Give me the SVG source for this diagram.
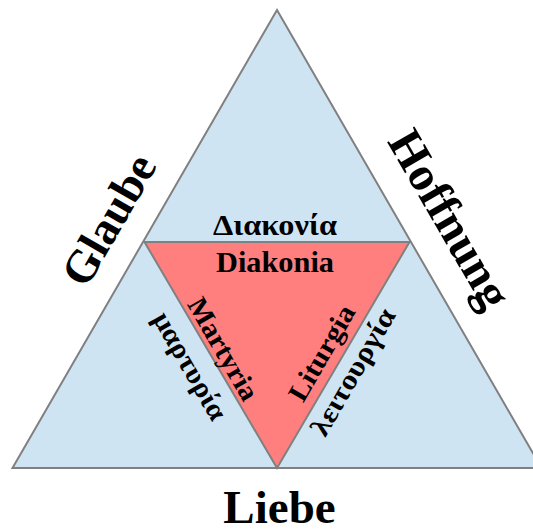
<svg xmlns="http://www.w3.org/2000/svg" width="533" height="532" viewBox="0 0 533 532">
<style>
.tri{stroke:#808080;stroke-width:2;stroke-linejoin:miter}
.t{font-family:"Liberation Serif","DejaVu Serif",serif;font-weight:bold;fill:#000;text-anchor:middle}
</style>
<rect width="533" height="532" fill="#fff"/>
<g id="outer"><polygon class="tri" points="277,10 12.5,468 541.5,468" fill="#CFE4F3"/></g>
<g id="inner"><polygon class="tri" points="144.5,242 409.5,242 277,468" fill="#FF7F7F"/></g>
<g id="labels">
<text class="t" x="275" y="235" font-size="29" textLength="124" lengthAdjust="spacingAndGlyphs">Διακονία</text>
<text class="t" x="275" y="272" font-size="29" textLength="118" lengthAdjust="spacingAndGlyphs">Diakonia</text>
<text class="t" x="279.5" y="523" font-size="47">Liebe</text>
<text class="t" font-size="46" transform="translate(109,220) rotate(-60)" y="15">Glaube</text>
<text class="t" font-size="48" transform="translate(450,219) rotate(60)" y="16">Hoffnung</text>
<text class="t" font-size="28" transform="translate(223,349) rotate(60)" y="9" textLength="114" lengthAdjust="spacingAndGlyphs">Martyria</text>
<text class="t" font-size="28" transform="translate(190,366) rotate(60)" y="9" textLength="120" lengthAdjust="spacingAndGlyphs">μαρτυρία</text>
<text class="t" font-size="28" transform="translate(322,353) rotate(-60)" y="9" textLength="106" lengthAdjust="spacingAndGlyphs">Liturgia</text>
<text class="t" font-size="28" transform="translate(353,372) rotate(-60)" y="9" textLength="142" lengthAdjust="spacingAndGlyphs">λειτουργία</text>
</g>
</svg>
